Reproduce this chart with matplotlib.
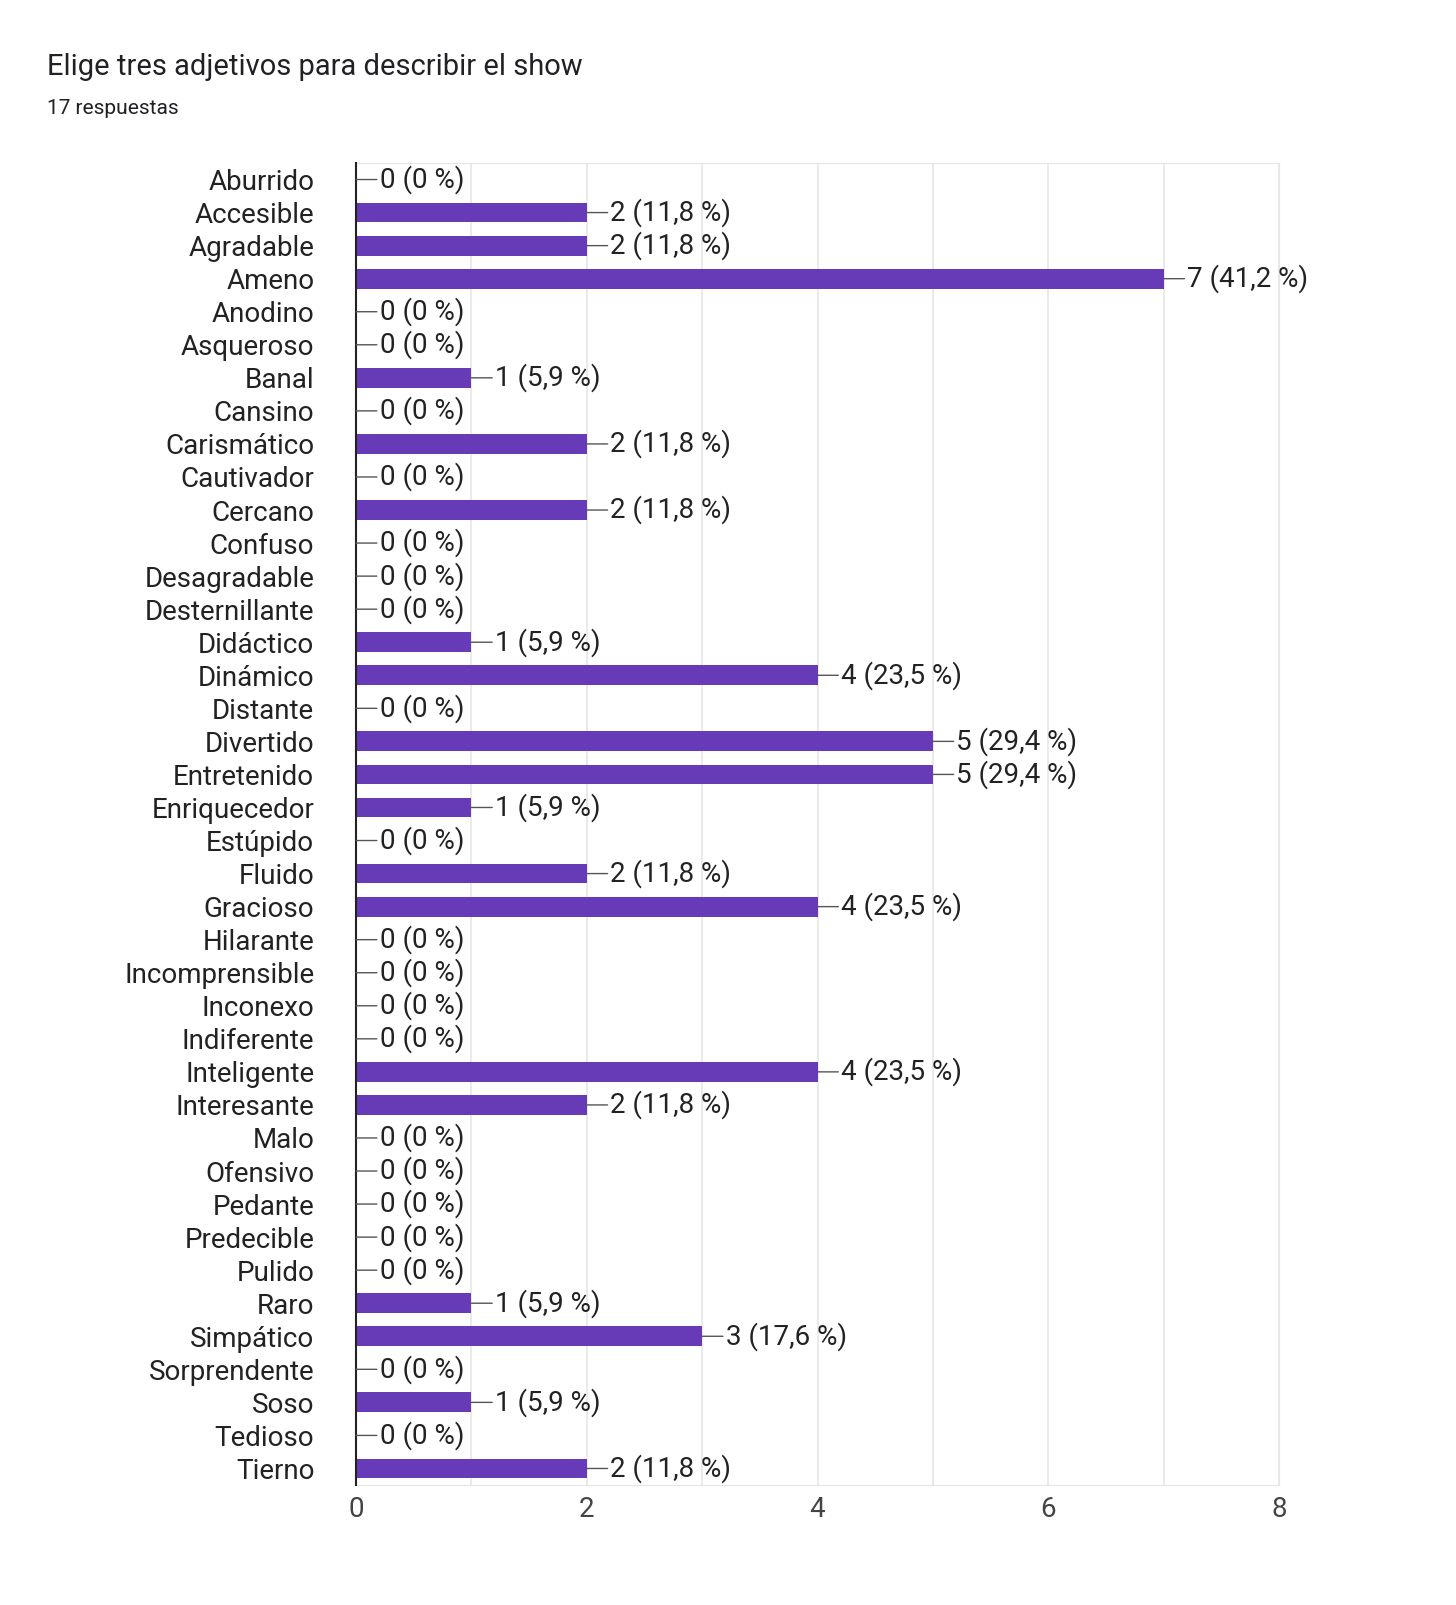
import matplotlib
matplotlib.use("Agg")
import matplotlib.pyplot as plt

categories = ["Aburrido","Accesible","Agradable","Ameno","Anodino","Asqueroso","Banal","Cansino",
"Carismático","Cautivador","Cercano","Confuso","Desagradable","Desternillante","Didáctico","Dinámico",
"Distante","Divertido","Entretenido","Enriquecedor","Estúpido","Fluido","Gracioso","Hilarante",
"Incomprensible","Inconexo","Indiferente","Inteligente","Interesante","Malo","Ofensivo","Pedante",
"Predecible","Pulido","Raro","Simpático","Sorprendente","Soso","Tedioso","Tierno"]
counts = [0,2,2,7,0,0,1,0,2,0,2,0,0,0,1,4,0,5,5,1,0,2,4,0,0,0,0,4,2,0,0,0,0,0,1,3,0,1,0,2]
total = 17
xticks = [0,2,4,6,8]

plt.rcParams["font.family"] = "Roboto"
fig = plt.figure(figsize=(14.56,16.05), dpi=100)
ax = fig.add_axes([356/1456, 1-1485/1605, (1279-356)/1456, (1485-163)/1605])
y = list(range(len(categories)))
ax.barh(y, counts, height=0.6, color="#673ab7", zorder=3)
ax.set_ylim(len(categories)-0.5, -0.5)
ax.set_xlim(0, 8)
ax.set_yticks(y)
ax.set_yticklabels(categories, fontsize=20, color="#222222")
ax.set_xticks(xticks)
ax.set_xticklabels([str(t) for t in xticks], fontsize=20, color="#444444")
ax.set_xticks([1,3,5,7], minor=True)
ax.tick_params(axis="both", length=0, pad=8)
ax.tick_params(axis="y", pad=30)
ax.tick_params(axis="x", which="minor", length=0)
ax.grid(axis="x", which="both", color="#e6e6e6", lw=1.2, zorder=0)
for s in ["top","right","bottom"]:
    ax.spines[s].set_color("#e6e6e6")
ax.spines["left"].set_color("#222222")
ax.spines["left"].set_linewidth(1.5)
ax.spines["left"].set_zorder(4)

for i, v in enumerate(counts):
    pct = f"{v/total*100:.1f}".replace(".", ",") if v else "0"
    ax.annotate(f"{v} ({pct} %)", xy=(v, i), xytext=(17, 0), textcoords="offset points",
                ha="left", va="center", fontsize=20, color="#222222",
                arrowprops=dict(arrowstyle="-", color="#555555", lw=1, shrinkA=0, shrinkB=0,
                                relpos=(0, 0.5)), annotation_clip=False, zorder=5)

fig.text(47/1456, 1-67/1605, "Elige tres adjetivos para describir el show", fontsize=21,
         color="#202124", va="center", ha="left")
fig.text(47/1456, 1-108/1605, "17 respuestas", fontsize=15, color="#202124", va="center", ha="left")
fig.savefig("out.png", dpi=100, facecolor="white")
